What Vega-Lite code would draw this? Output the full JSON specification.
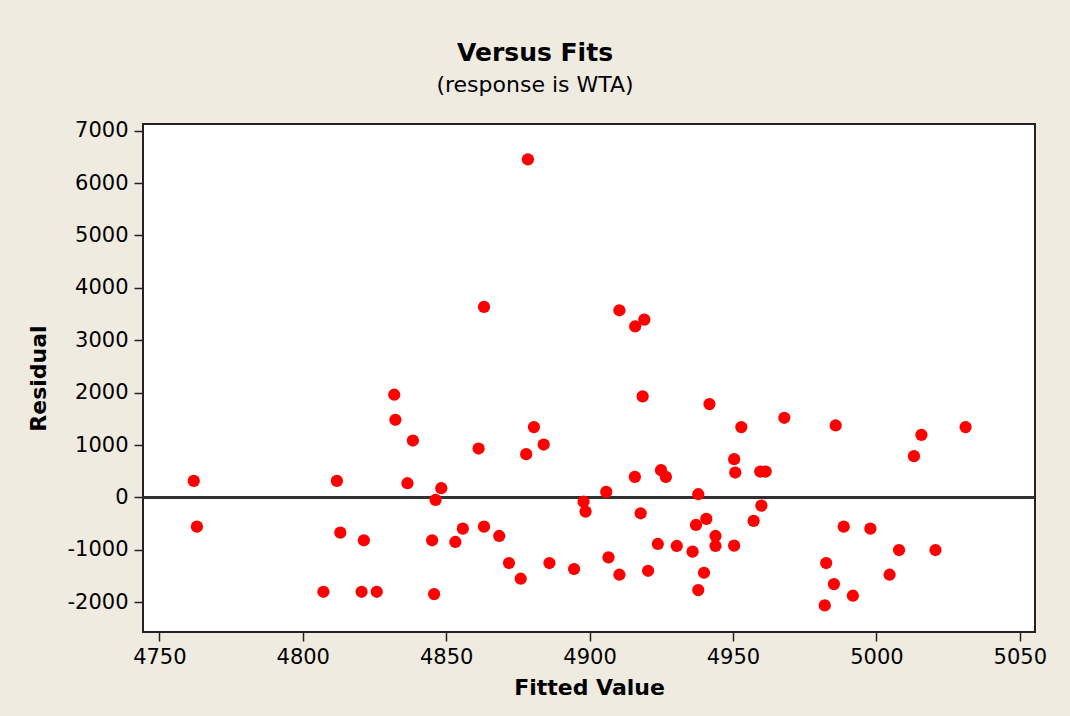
{
  "$schema": "https://vega.github.io/schema/vega-lite/v6.json",
  "width": 892,
  "height": 508,
  "autosize": "none",
  "padding": {"left": 143, "top": 124, "right": 35, "bottom": 84},
  "background": "#EFEBE1",
  "title": {
    "text": "Versus Fits",
    "subtitle": "(response is WTA)",
    "font": "DejaVu Sans",
    "fontSize": 25,
    "fontWeight": "bold",
    "color": "#000000",
    "subtitleFont": "DejaVu Sans",
    "subtitleFontSize": 22,
    "subtitleColor": "#000000",
    "anchor": "middle",
    "dx": -54,
    "offset": 24,
    "subtitlePadding": 9
  },
  "config": {
    "view": {"fill": "white", "stroke": "#222222", "strokeWidth": 2},
    "axis": {
      "domain": false,
      "grid": false,
      "tickSize": 9,
      "tickWidth": 1.5,
      "tickColor": "#222222",
      "labelFont": "DejaVu Sans",
      "labelFontSize": 21,
      "labelColor": "#000000",
      "titleFont": "DejaVu Sans",
      "titleFontSize": 22,
      "titleFontWeight": "bold",
      "titleColor": "#000000"
    }
  },
  "data": {
    "values": [
      {"fit": 4762.0, "res": 315},
      {"fit": 4763.1, "res": -558},
      {"fit": 4807.2, "res": -1801},
      {"fit": 4811.9, "res": 315},
      {"fit": 4813.1, "res": -673},
      {"fit": 4820.5, "res": -1801},
      {"fit": 4821.3, "res": -818},
      {"fit": 4825.8, "res": -1801},
      {"fit": 4831.9, "res": 1960},
      {"fit": 4832.3, "res": 1482},
      {"fit": 4836.5, "res": 271},
      {"fit": 4838.4, "res": 1086},
      {"fit": 4845.1, "res": -818},
      {"fit": 4845.8, "res": -1845},
      {"fit": 4846.3, "res": -48},
      {"fit": 4848.3, "res": 176},
      {"fit": 4853.2, "res": -851},
      {"fit": 4855.8, "res": -596},
      {"fit": 4861.3, "res": 933},
      {"fit": 4863.2, "res": 3637},
      {"fit": 4863.2, "res": -558},
      {"fit": 4868.5, "res": -736},
      {"fit": 4871.9, "res": -1252},
      {"fit": 4876.0, "res": -1552},
      {"fit": 4877.9, "res": 826},
      {"fit": 4878.5, "res": 6453},
      {"fit": 4880.6, "res": 1342},
      {"fit": 4884.0, "res": 1010},
      {"fit": 4886.0, "res": -1252},
      {"fit": 4894.6, "res": -1367},
      {"fit": 4897.9, "res": -80},
      {"fit": 4898.6, "res": -271},
      {"fit": 4905.8, "res": 105},
      {"fit": 4906.6, "res": -1143},
      {"fit": 4910.4, "res": 3572},
      {"fit": 4910.4, "res": -1476},
      {"fit": 4915.8, "res": 392},
      {"fit": 4915.9, "res": 3266},
      {"fit": 4917.8, "res": -303},
      {"fit": 4918.5, "res": 1928},
      {"fit": 4919.1, "res": 3394},
      {"fit": 4920.4, "res": -1400},
      {"fit": 4923.8, "res": -889},
      {"fit": 4924.9, "res": 520},
      {"fit": 4926.6, "res": 392},
      {"fit": 4930.4, "res": -927},
      {"fit": 4935.9, "res": -1036},
      {"fit": 4937.1, "res": -526},
      {"fit": 4937.9, "res": 61},
      {"fit": 4937.9, "res": -1769},
      {"fit": 4939.9, "res": -1438},
      {"fit": 4940.7, "res": -411},
      {"fit": 4941.8, "res": 1782},
      {"fit": 4943.9, "res": -736},
      {"fit": 4943.9, "res": -927},
      {"fit": 4950.4, "res": 730},
      {"fit": 4950.8, "res": 475},
      {"fit": 4950.4, "res": -921},
      {"fit": 4952.9, "res": 1342},
      {"fit": 4957.2, "res": -449},
      {"fit": 4959.5, "res": 494},
      {"fit": 4961.4, "res": 494},
      {"fit": 4959.9, "res": -157},
      {"fit": 4967.9, "res": 1520},
      {"fit": 4982.0, "res": -2061},
      {"fit": 4982.5, "res": -1252},
      {"fit": 4985.2, "res": -1654},
      {"fit": 4985.8, "res": 1373},
      {"fit": 4988.6, "res": -558},
      {"fit": 4991.8, "res": -1877},
      {"fit": 4997.9, "res": -596},
      {"fit": 5004.6, "res": -1476},
      {"fit": 5007.9, "res": -1004},
      {"fit": 5013.1, "res": 788},
      {"fit": 5015.7, "res": 1195},
      {"fit": 5020.6, "res": -1004},
      {"fit": 5031.1, "res": 1342}
    ]
  },
  "layer": [
    {
      "mark": {"type": "rule", "color": "#333333", "strokeWidth": 1.5},
      "encoding": {"y": {"datum": 0, "type": "quantitative", "scale": {"domain": [-2569, 7128], "nice": false, "zero": false}}}
    },
    {
      "mark": {"type": "point", "filled": true, "shape": "circle", "color": "#FF0000", "size": 150, "opacity": 1},
      "encoding": {
        "x": {
          "field": "fit",
          "type": "quantitative",
          "title": "Fitted Value",
          "scale": {"domain": [4744.3, 5055.3], "nice": false, "zero": false},
          "axis": {"values": [4750, 4800, 4850, 4900, 4950, 5000, 5050], "labelExpr": "replace(format(datum.value, 'd'), '−', '-')", "labelPadding": 5, "titlePadding": 10}
        },
        "y": {
          "field": "res",
          "type": "quantitative",
          "title": "Residual",
          "scale": {"domain": [-2569, 7128], "nice": false, "zero": false},
          "axis": {"values": [-2000, -1000, 0, 1000, 2000, 3000, 4000, 5000, 6000, 7000], "labelExpr": "replace(format(datum.value, 'd'), '−', '-')", "labelPadding": 6, "titlePadding": 16}
        }
      }
    }
  ]
}
